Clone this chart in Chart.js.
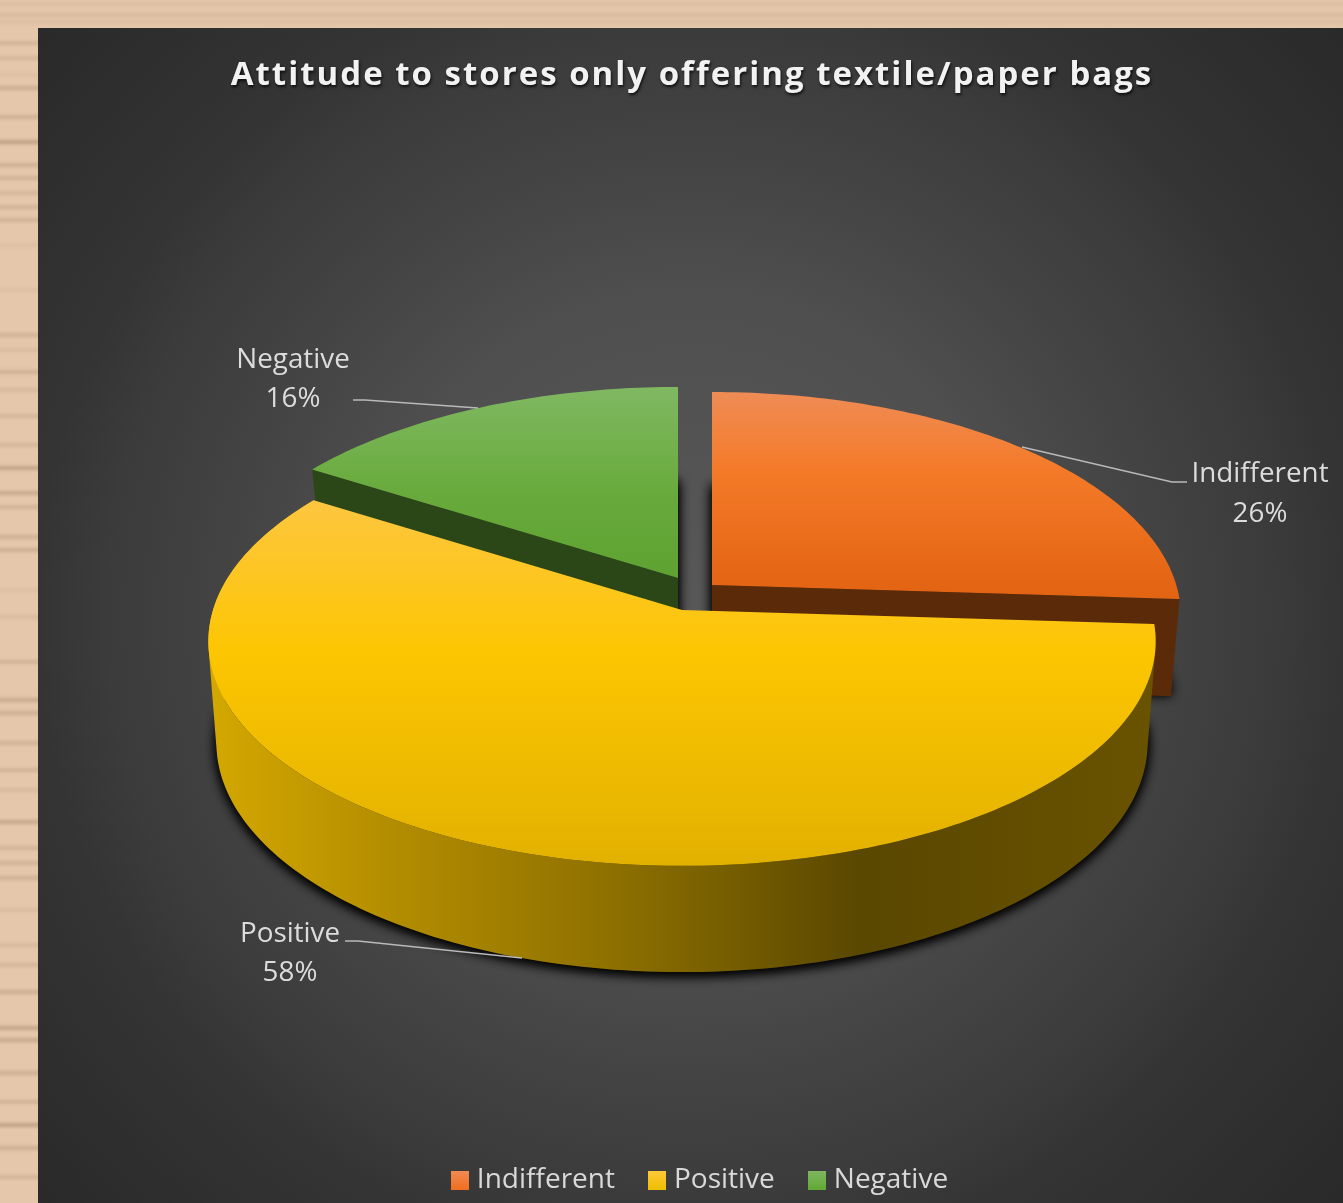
<!DOCTYPE html>
<html>
<head>
<meta charset="utf-8">
<title>Attitude to stores only offering textile/paper bags</title>
<script src="https://cdn.jsdelivr.net/npm/chart.js@4/dist/chart.umd.min.js"></script>
<style>
  html, body { margin: 0; padding: 0; width: 1343px; height: 1203px; overflow: hidden; background: #e4c6aa; }
  #wood { position: absolute; left: -6px; top: -6px; width: 1355px; height: 1215px; filter: blur(1px); }
  #chart {
    position: absolute; left: 38px; top: 28px;
    background: radial-gradient(circle 885px at 50% 50%, #585858 0%, #4f4f4f 36%, #454545 50%, #3b3b3b 66%, #343434 74%, #292929 100%);
  }
</style>
</head>
<body>
<div id="wood"></div>
<canvas id="chart" width="1305" height="1175"></canvas>
<script>
// Survey results
const categories = ['Indifferent', 'Positive', 'Negative'];
const shares = [26, 58, 16];
const chartTitle = 'Attitude to stores only offering textile/paper bags';

// Page offset of the chart canvas
const ORIGIN = { x: 38, y: 28 };

// Perspective of the pie's top and bottom planes
const TOP_PLANE = { a: 469, b: 220, p: 0.14, drop: 0 };
const BOTTOM_PLANE = { a: 460, b: 224, p: 0.155, drop: 97 };

// Where each slice's tip sits once the slices are pulled apart, and how far back it recedes
const TIPS = [
  { x: 712, y: 585, sx: 0.99, sy: 1 },
  { x: 682, y: 610, sx: 1, sy: 1 },
  { x: 678, y: 578, sx: 0.993, sy: 0.99 }
];

// Slice paint
const TOP_FILLS = [
  { from: 392, to: 590, stops: [[0, '#ef8c55'], [0.4, '#f47a28'], [1, '#e36413']] },
  { from: 499, to: 866, stops: [[0, '#fdc640'], [0.42, '#fdc602'], [1, '#e2b100']] },
  { from: 387, to: 578, stops: [[0, '#80b862'], [0.55, '#68ab3c'], [1, '#5ea232']] }
];
const CUT_WALLS = ['#5b2a09', null, '#2b4718'];
const RIM_STOPS = [[0, '#d4a800'], [0.2, '#b28c00'], [0.42, '#8f7100'], [0.69, '#5a4700'], [1, '#695300']];
const SWATCHES = [['#f08c56', '#f06f1f'], ['#ffc93c', '#efbf00'], ['#80b862', '#63a936']];

// Callouts: label centre, and the leader line from text to slice
const CALLOUTS = [
  { x: 1260, y1: 474, y2: 514, line: [[1187, 482], [1172, 482], [1022, 447]] },
  { x: 290, y1: 934, y2: 973, line: [[345, 941], [358, 941], [522, 958]] },
  { x: 293, y1: 360, y2: 399, line: [[353, 400], [365, 400], [478, 408]] }
];

// Grain lines in the wood backdrop: [y, darkness]
const GRAIN = [[4, .2], [15, .3], [22, .22], [43, .45], [58, .4], [75, .2], [88, .6], [117, .55], [142, .9], [165, .6],
  [178, .5], [193, .4], [207, .45], [220, .5], [245, .2], [290, .2], [335, .5], [350, .25], [372, .55], [390, .35],
  [416, .4], [445, .4], [468, .85], [493, .7], [507, .45], [537, .55], [550, .6], [590, .2], [617, .3], [662, .5],
  [700, .7], [713, .6], [743, .5], [770, .5], [790, .3], [822, .75], [848, .45], [863, .5], [878, .55], [910, .25],
  [945, .35], [965, .4], [992, .6], [1028, .8], [1040, .7], [1073, .6], [1102, .5], [1125, .9], [1148, .6], [1177, .45]];

function woodBackground() {
  const base = [229, 199, 171], dark = [176, 146, 120];
  const mix = k => 'rgb(' + base.map((c, i) => Math.round(c + (dark[i] - c) * k * 0.8)).join(',') + ')';
  const stops = [mix(0) + ' 0px'];
  GRAIN.forEach(([y, k]) => {
    stops.push(mix(0) + ' ' + (y + 6 - 4) + 'px', mix(k) + ' ' + (y + 6) + 'px', mix(0) + ' ' + (y + 6 + 4) + 'px');
  });
  return 'linear-gradient(180deg,' + stops.join(',') + ')';
}
document.getElementById('wood').style.background = woodBackground();

function project(theta, plane, tip) {
  const u = Math.sin(theta), v = Math.cos(theta), k = 1 + plane.p * v;
  return [tip.x - ORIGIN.x + tip.sx * plane.a * u / k,
          tip.y - ORIGIN.y + plane.drop - tip.sy * plane.b * v / k];
}

function rimPoints(from, to, plane, tip) {
  const steps = Math.max(2, Math.ceil(Math.abs(to - from) / 0.02));
  const pts = [];
  for (let i = 0; i <= steps; i++) pts.push(project(from + (to - from) * i / steps, plane, tip));
  return pts;
}

function addPoly(ctx, pts) {
  pts.forEach((p, i) => (i ? ctx.lineTo(p[0], p[1]) : ctx.moveTo(p[0], p[1])));
  ctx.closePath();
}

function tracePoly(ctx, pts) {
  ctx.beginPath();
  addPoly(ctx, pts);
}

function linear(ctx, x0, y0, x1, y1, stops) {
  const g = ctx.createLinearGradient(x0, y0, x1, y1);
  stops.forEach(([o, c]) => g.addColorStop(o, c));
  return g;
}

function signedArea(q) {
  let s = 0;
  q.forEach((p, i) => { const n = q[(i + 1) % q.length]; s += p[0] * n[1] - n[0] * p[1]; });
  return s;
}

// Paints one slice of the pie using the angles worked out by the arc element
function paintSlice(ctx, arc, i) {
  const start = arc.startAngle + Math.PI / 2, end = arc.endAngle + Math.PI / 2;
  const tip = TIPS[i];
  const topTip = [tip.x - ORIGIN.x, tip.y - ORIGIN.y];
  const lowTip = [tip.x - ORIGIN.x, tip.y - ORIGIN.y + BOTTOM_PLANE.drop];
  const topRim = rimPoints(start, end, TOP_PLANE, tip);
  const lowRim = rimPoints(start, end, BOTTOM_PLANE, tip);

  // soft shadow cast by the foot of the slice, laid twice for depth
  ctx.save();
  ctx.shadowColor = 'rgba(0,0,0,0.95)';
  ctx.shadowBlur = 12;
  ctx.shadowOffsetY = CUT_WALLS[i] ? -2 : 3;
  ctx.fillStyle = '#1a1a1a';
  tracePoly(ctx, [lowTip, ...lowRim]);
  ctx.fill();
  ctx.fill();
  ctx.restore();

  if (CUT_WALLS[i]) {
    // the sliced face that looks towards the viewer
    const n = topRim.length - 1;
    const wall = i === 0 ? [topTip, topRim[n], lowRim[n], lowTip] : [topTip, topRim[0], lowRim[0], lowTip];
    ctx.fillStyle = CUT_WALLS[i];
    tracePoly(ctx, wall);
    ctx.fill();
  } else {
    // curved outer wall, built from quads of one winding so the folds stay filled
    ctx.fillStyle = linear(ctx, 209 - ORIGIN.x, 0, 1155 - ORIGIN.x, 0, RIM_STOPS);
    ctx.beginPath();
    for (let k = 0; k < topRim.length - 1; k++) {
      const q = [topRim[k], topRim[k + 1], lowRim[k + 1], lowRim[k]];
      addPoly(ctx, signedArea(q) < 0 ? q.reverse() : q);
    }
    ctx.fill('nonzero');
  }

  const fill = TOP_FILLS[i];
  ctx.fillStyle = linear(ctx, 0, fill.from - ORIGIN.y, 0, fill.to - ORIGIN.y, fill.stops);
  tracePoly(ctx, [topTip, ...topRim]);
  ctx.fill();
}

function paintCallouts(ctx) {
  ctx.save();
  ctx.strokeStyle = '#b9b9b9';
  ctx.lineWidth = 1.4;
  ctx.fillStyle = '#dcdcdc';
  ctx.font = '400 27.8px "Open Sans"';
  ctx.textAlign = 'center';
  ctx.textBaseline = 'middle';
  CALLOUTS.forEach((c, i) => {
    ctx.beginPath();
    c.line.forEach((p, j) => (j ? ctx.lineTo(p[0] - ORIGIN.x, p[1] - ORIGIN.y) : ctx.moveTo(p[0] - ORIGIN.x, p[1] - ORIGIN.y)));
    ctx.stroke();
    ctx.fillText(categories[i], c.x - ORIGIN.x, c.y1 - ORIGIN.y);
    ctx.fillText(shares[i] + '%', c.x - ORIGIN.x, c.y2 - ORIGIN.y);
  });
  ctx.restore();
}

const pie3d = {
  id: 'pie3d',
  beforeDraw(chart) {
    const ctx = chart.ctx;
    // the title gets wide tracking and a faint shadow
    const block = chart.titleBlock;
    if (block && !block.tracked) {
      const draw = block.draw;
      block.draw = function () {
        ctx.save();
        ctx.translate(1.5, 0);
        ctx.letterSpacing = '2px';
        ctx.shadowColor = 'rgba(0,0,0,0.75)';
        ctx.shadowBlur = 3;
        ctx.shadowOffsetX = 1;
        ctx.shadowOffsetY = 2;
        draw.call(block);
        ctx.restore();
      };
      block.tracked = true;
    }
    // the legend swatches overhang their boxes, so the row is nudged back to centre
    const legend = chart.legend;
    if (legend && !legend.nudged) {
      const draw = legend.draw;
      legend.draw = function () {
        ctx.save();
        ctx.translate(12, 1);
        draw.call(legend);
        ctx.restore();
      };
      legend.nudged = true;
    }
  },
  beforeDatasetsDraw(chart) {
    const ctx = chart.ctx;
    const arcs = chart.getDatasetMeta(0).data;
    // far slices first, the large front slice last
    [2, 0, 1].forEach(i => paintSlice(ctx, arcs[i], i));
    paintCallouts(ctx);
    return false;
  }
};

function swatch(colors) {
  const c = document.createElement('canvas');
  c.width = 18; c.height = 19;
  const g = c.getContext('2d');
  const grad = g.createLinearGradient(0, 0, 0, 19);
  grad.addColorStop(0, colors[0]);
  grad.addColorStop(1, colors[1]);
  g.fillStyle = grad;
  g.fillRect(0, 0, 18, 19);
  return c;
}

new Chart(document.getElementById('chart'), {
  type: 'pie',
  data: {
    labels: categories,
    datasets: [{ data: shares, backgroundColor: ['#f47a28', '#fdc602', '#68ab3c'], borderWidth: 0 }]
  },
  options: {
    responsive: false,
    animation: false,
    events: [],
    devicePixelRatio: 1,
    plugins: {
      tooltip: { enabled: false },
      title: {
        display: true,
        text: chartTitle,
        color: '#f2f2f2',
        font: { family: '"Open Sans"', size: 33, weight: '700' },
        padding: { top: 28, bottom: 10 }
      },
      legend: {
        position: 'bottom',
        labels: {
          color: '#d9d9d9',
          font: { family: '"Open Sans"', size: 28 },
          usePointStyle: true,
          pointStyleWidth: 6,
          padding: 39,
          generateLabels(chart) {
            return Chart.overrides.pie.plugins.legend.labels.generateLabels(chart)
              .map((item, i) => Object.assign(item, { pointStyle: swatch(SWATCHES[i]) }));
          }
        }
      }
    }
  },
  plugins: [pie3d]
});
</script>
</body>
</html>
